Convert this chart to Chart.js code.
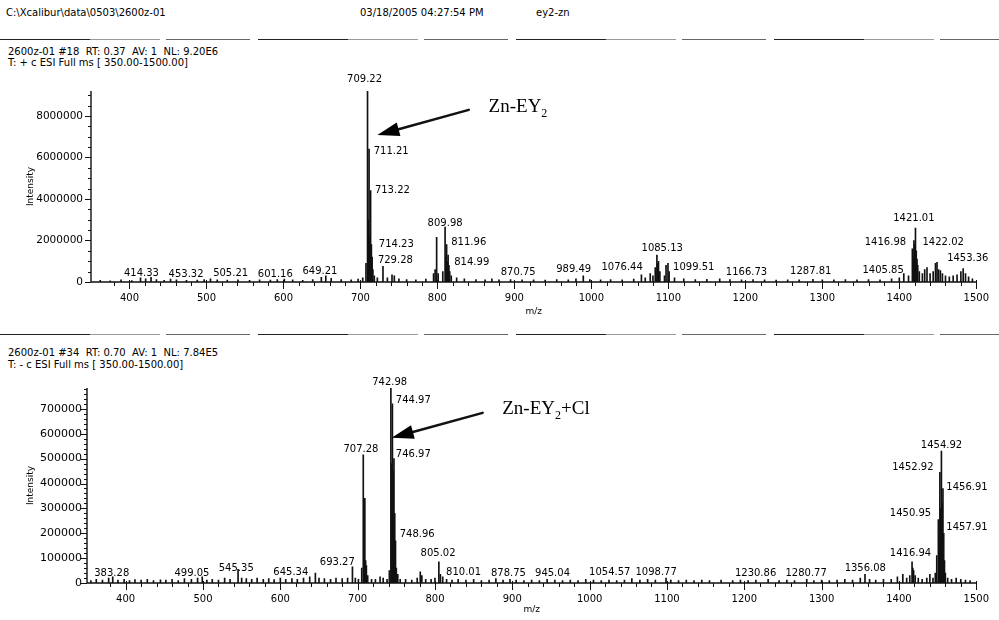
<!DOCTYPE html>
<html>
<head>
<meta charset="utf-8">
<script src="https://cdn.jsdelivr.net/npm/chart.js@4.4.1/dist/chart.umd.min.js"></script>
<style>
  body { margin: 0; background: #fff; }
  #page { position: relative; width: 999px; height: 620px; overflow: hidden; font-family: "DejaVu Sans", sans-serif; color: #000; }
  .txt { position: absolute; font-size: 10px; line-height: 12px; white-space: pre; }
  .rule { position: absolute; left: 0; width: 999px; height: 1px;
    background: repeating-linear-gradient(90deg, #222 0 90px, #999 90px 160px, transparent 160px 166px, #666 166px 250px, transparent 250px 258px); }
  canvas { position: absolute; left: 0; }
</style>
</head>
<body>
<div id="page">
  <div class="txt" style="left:6px;top:7px">C:\Xcalibur\data\0503\2600z-01</div>
  <div class="txt" style="left:360px;top:7px">03/18/2005 04:27:54 PM</div>
  <div class="txt" style="left:536px;top:7px">ey2-zn</div>
  <div class="rule" style="top:39px"></div>
  <div class="txt" style="left:8px;top:46px">2600z-01 #18  RT: 0.37  AV: 1  NL: 9.20E6</div>
  <div class="txt" style="left:8px;top:57px">T: + c ESI Full ms [ 350.00-1500.00]</div>
  <canvas id="topChart" width="999" height="250" style="top:70px"></canvas>
  <div class="rule" style="top:334px"></div>
  <div class="txt" style="left:8px;top:347px">2600z-01 #34  RT: 0.70  AV: 1  NL: 7.84E5</div>
  <div class="txt" style="left:8px;top:359px">T: - c ESI Full ms [ 350.00-1500.00]</div>
  <canvas id="bottomChart" width="999" height="250" style="top:370px"></canvas>
</div>
<script>
// scan #18, positive mode
const mzTop = [
  362, 375, 389, 403, 414.33, 421, 428, 435, 445, 453.32,
  461, 474, 488, 497, 505.21, 514, 527, 541, 556, 569,
  583, 592, 601.16, 612, 625, 638, 649.21, 655, 662, 675,
  688, 697, 703, 707.2, 709.22, 710.2, 711.21, 712.2, 713.22, 714.23,
  715.2, 716.2, 718, 722, 729.28, 735, 741, 744, 750, 760,
  772, 785, 795, 797, 799, 801, 807, 809.98, 810.9, 811.96,
  812.9, 813.9, 814.99, 816, 818, 825, 835, 850, 862, 870.75,
  880, 895, 910, 925, 940, 955, 970, 980, 989.49, 998,
  1012, 1025, 1040, 1055, 1065, 1070, 1076.44, 1080, 1083, 1085.13,
  1086, 1087.2, 1089, 1095, 1097, 1099.51, 1101, 1108, 1120, 1135,
  1150, 1166.73, 1180, 1195, 1210, 1225, 1240, 1255, 1270, 1287.81,
  1300, 1315, 1330, 1345, 1360, 1375, 1390, 1400, 1405.85, 1412,
  1416.98, 1418, 1419, 1420, 1421.01, 1422.02, 1423, 1424, 1426, 1430,
  1433, 1436, 1440, 1444, 1447, 1449, 1451, 1453.36, 1456, 1460,
  1465, 1470, 1475, 1480, 1483, 1486, 1490, 1495
];
const intTop = [
  80000, 60000, 100000, 70000, 200000, 150000, 220000, 120000, 80000, 140000,
  100000, 80000, 90000, 120000, 150000, 100000, 90000, 110000, 80000, 100000,
  90000, 120000, 140000, 100000, 80000, 120000, 220000, 300000, 180000, 120000,
  100000, 140000, 200000, 900000, 9200000, 3000000, 6400000, 2200000, 4400000, 1800000,
  1200000, 600000, 300000, 200000, 750000, 200000, 350000, 300000, 150000, 120000,
  100000, 140000, 400000, 600000, 2150000, 400000, 500000, 2650000, 1200000, 1800000,
  1000000, 1300000, 800000, 500000, 300000, 200000, 150000, 120000, 100000, 150000,
  100000, 120000, 100000, 110000, 90000, 120000, 100000, 150000, 300000, 120000,
  100000, 120000, 110000, 140000, 350000, 200000, 400000, 300000, 700000, 1300000,
  900000, 1000000, 500000, 300000, 800000, 900000, 500000, 200000, 150000, 120000,
  130000, 150000, 120000, 100000, 120000, 100000, 90000, 110000, 100000, 130000,
  100000, 110000, 120000, 100000, 120000, 100000, 150000, 200000, 400000, 300000,
  1600000, 1200000, 2000000, 1800000, 2600000, 1500000, 1100000, 800000, 500000, 400000,
  600000, 700000, 400000, 500000, 900000, 950000, 600000, 550000, 400000, 300000,
  250000, 300000, 350000, 500000, 650000, 400000, 250000, 150000
];
const tagTextTop = ["709.22", "711.21", "713.22", "714.23", "729.28", "809.98", "811.96", "814.99",
  "870.75", "989.49", "1076.44", "1085.13", "1099.51", "1166.73", "1287.81", "1405.85",
  "1416.98", "1421.01", "1422.02", "1453.36", "414.33", "453.32", "505.21", "601.16", "649.21"];
const tagMzTop = [705.4, 740, 741.5, 746.6, 745.4, 810, 840.7, 844.6,
  905, 977, 1040, 1092, 1133, 1201.5, 1285, 1379,
  1382, 1419, 1457, 1489, 415.5, 473.5, 531.4, 589.4, 647.4];
const tagIntTop = [9735000, 6313000, 4434000, 1831000, 1060000, 2843000, 1928000, 964000,
  482000, 627000, 723000, 1639000, 723000, 482000, 530000, 578000,
  1928000, 3084000, 1928000, 1157000, 434000, 386000, 434000, 386000, 530000];

// scan #34, negative mode
const mzBottom = [
  355, 362, 370, 378, 383.28, 390, 398, 405, 412, 420,
  428, 436, 445, 452, 460, 468, 476, 485, 493, 499.05,
  505, 512, 520, 528, 535, 545.35, 550, 556, 563, 570,
  578, 585, 592, 600, 607, 615, 622, 630, 638, 645.34,
  650, 657, 665, 672, 680, 687, 693.27, 697, 701, 705.3,
  707.28, 708.3, 709.3, 710.3, 711.3, 713, 718, 723, 729, 733,
  738, 741, 742.98, 743.98, 744.97, 745.97, 746.97, 747.97, 748.96, 750,
  751.9, 755, 762, 770, 777, 781, 783, 788, 795, 800,
  805.02, 807, 810.01, 815, 822, 830, 840, 850, 860, 870,
  878.75, 888, 897, 905, 915, 925, 935, 945.04, 955, 965,
  975, 985, 995, 1005, 1015, 1025, 1035, 1045, 1054.57, 1065,
  1075, 1085, 1098.77, 1105, 1115, 1125, 1135, 1145, 1155, 1170,
  1185, 1195, 1205, 1215, 1230.86, 1245, 1255, 1265, 1280.77, 1290,
  1300, 1310, 1320, 1330, 1340, 1350, 1356.08, 1362, 1370, 1380,
  1390, 1398, 1405, 1410, 1414, 1416.94, 1418, 1419, 1421, 1425,
  1430, 1436, 1440, 1444, 1447, 1448.9, 1450.95, 1451.9, 1452.92, 1453.9,
  1454.92, 1455.9, 1456.91, 1457.91, 1458.9, 1460, 1463, 1468, 1474, 1480,
  1486, 1492
];
const intBottom = [
  10000, 15000, 12000, 20000, 25000, 12000, 15000, 10000, 14000, 12000,
  15000, 10000, 13000, 12000, 15000, 10000, 18000, 15000, 20000, 25000,
  12000, 15000, 12000, 20000, 15000, 55000, 20000, 18000, 15000, 20000,
  15000, 18000, 14000, 20000, 15000, 18000, 15000, 20000, 25000, 40000,
  20000, 18000, 15000, 20000, 18000, 20000, 65000, 20000, 15000, 60000,
  515000, 150000, 340000, 90000, 70000, 30000, 15000, 15000, 25000, 20000,
  15000, 50000, 784000, 480000, 720000, 450000, 500000, 280000, 170000, 60000,
  35000, 15000, 15000, 12000, 20000, 45000, 30000, 15000, 15000, 20000,
  85000, 35000, 25000, 15000, 12000, 15000, 12000, 15000, 10000, 12000,
  18000, 12000, 15000, 12000, 10000, 12000, 10000, 15000, 12000, 10000,
  12000, 10000, 15000, 12000, 10000, 12000, 10000, 12000, 18000, 12000,
  15000, 12000, 20000, 12000, 10000, 12000, 10000, 12000, 10000, 12000,
  10000, 12000, 10000, 12000, 15000, 10000, 12000, 10000, 15000, 10000,
  12000, 10000, 12000, 15000, 12000, 20000, 35000, 15000, 12000, 15000,
  15000, 25000, 35000, 20000, 30000, 85000, 60000, 50000, 30000, 20000,
  15000, 20000, 35000, 20000, 40000, 110000, 255000, 150000, 445000, 300000,
  530000, 320000, 380000, 200000, 90000, 40000, 20000, 15000, 20000, 15000,
  12000, 10000
];
const tagTextBottom = ["383.28", "499.05", "545.35", "645.34", "693.27", "742.98", "744.97", "707.28",
  "746.97", "748.96", "805.02", "810.01", "878.75", "945.04", "1054.57", "1098.77",
  "1230.86", "1280.77", "1356.08", "1416.94", "1450.95", "1452.92", "1454.92", "1456.91", "1457.91"];
const tagMzBottom = [382, 485.7, 543, 613.6, 673.7, 741.4, 772, 704.3,
  772, 777, 804, 837, 895, 952, 1026, 1086,
  1214.6, 1280, 1356.5, 1415, 1415, 1418, 1455, 1488, 1488];
const tagIntBottom = [40000, 40000, 60000, 44000, 84000, 808000, 736000, 536000,
  516000, 196000, 120000, 44000, 40000, 40000, 44000, 44000,
  40000, 40000, 60000, 120000, 280000, 464000, 552000, 384000, 224000];

Chart.defaults.font.family = '"DejaVu Sans", sans-serif';
Chart.defaults.color = "#000";

const spectrumDecor = {
  id: "spectrumDecor",
  afterDraw(chart, args, o) {
    const { ctx, chartArea: a } = chart;
    const xs = chart.scales.x;
    const ys = chart.scales.y;
    ctx.save();
    ctx.strokeStyle = "#111";
    ctx.lineWidth = 1.4;
    ctx.beginPath();
    ctx.moveTo(a.left, a.top);
    ctx.lineTo(a.left, a.bottom);
    ctx.lineTo(a.right, a.bottom);
    ctx.stroke();

    ctx.lineWidth = 1;
    ctx.beginPath();
    xs.ticks.forEach((t) => {
      if (t.value % o.xMinor) return;
      const px = Math.round(xs.getPixelForValue(t.value)) + 0.5;
      const major = t.value % o.xMajor === 0;
      ctx.moveTo(px, a.bottom - (major ? 2 : 0));
      ctx.lineTo(px, a.bottom + (major ? 7 : 4));
    });
    ys.ticks.forEach((t) => {
      const py = Math.round(ys.getPixelForValue(t.value)) + 0.5;
      const major = t.value % o.yMajor === 0;
      ctx.moveTo(a.left - (major ? 6 : 3), py);
      ctx.lineTo(a.left, py);
    });
    ctx.stroke();

    ctx.fillStyle = "#000";
    ctx.font = '10px "DejaVu Sans"';
    ctx.textAlign = "center";
    ctx.textBaseline = "middle";
    o.tags.forEach((t, i) => {
      ctx.fillText(t, xs.getPixelForValue(o.tagX[i]), ys.getPixelForValue(o.tagY[i]));
    });

    // arrow pointing at the complex peak
    const x1 = xs.getPixelForValue(o.arrow[0]), y1 = ys.getPixelForValue(o.arrow[1]);
    const x2 = xs.getPixelForValue(o.arrow[2]), y2 = ys.getPixelForValue(o.arrow[3]);
    const ang = Math.atan2(y2 - y1, x2 - x1);
    const head = 22, half = 7;
    const bx = x2 - head * Math.cos(ang), by = y2 - head * Math.sin(ang);
    ctx.lineWidth = 2.5;
    ctx.lineCap = "round";
    ctx.beginPath();
    ctx.moveTo(x1, y1);
    ctx.lineTo(bx, by);
    ctx.stroke();
    ctx.beginPath();
    ctx.moveTo(x2, y2);
    ctx.lineTo(bx + half * Math.sin(ang), by - half * Math.cos(ang));
    ctx.lineTo(bx - half * Math.sin(ang), by + half * Math.cos(ang));
    ctx.closePath();
    ctx.fill();

    let nx = xs.getPixelForValue(o.noteAt[0]);
    const ny = ys.getPixelForValue(o.noteAt[1]);
    ctx.textAlign = "left";
    ctx.textBaseline = "alphabetic";
    o.note.forEach((p) => {
      ctx.font = p.sub ? '12px "Liberation Serif"' : '19px "Liberation Serif"';
      ctx.fillText(p.t, nx, ny + (p.sub ? 5 : 0));
      nx += ctx.measureText(p.t).width;
    });
    ctx.restore();
  },
};

function drawSpectrum(id, mz, inten, s) {
  return new Chart(document.getElementById(id), {
    type: "bar",
    data: {
      datasets: [{
        data: mz.map((m, i) => ({ x: m, y: inten[i] })),
        backgroundColor: "#111",
        borderWidth: 0,
        barThickness: 1,
      }],
    },
    options: {
      responsive: false,
      animation: false,
      layout: { padding: { top: s.padTop, right: s.padRight, left: 0, bottom: 0 } },
      plugins: {
        legend: { display: false },
        tooltip: { enabled: false },
        spectrumDecor: s.decor,
      },
      scales: {
        x: {
          type: "linear",
          offset: false,
          min: 350,
          max: 1500,
          grid: { display: false, drawTicks: false },
          border: { display: false },
          ticks: {
            stepSize: 20,
            autoSkip: false,
            maxRotation: 0,
            padding: 10,
            font: { size: 10 },
            callback: (v) => (v % 100 === 0 ? String(v) : ""),
          },
          title: { display: true, text: "m/z", font: { size: 9 }, padding: { top: 0, bottom: s.mzPad } },
          afterFit: (sc) => { sc.height = s.xHeight; },
        },
        y: {
          min: 0,
          max: s.yMax,
          grid: { display: false, drawTicks: false },
          border: { display: false },
          ticks: {
            autoSkip: false,
            padding: s.yPad,
            font: { size: s.yFont },
            callback: (v) => (v % s.decor.yMajor === 0 ? String(v) : ""),
          },
          // one tick per minor step; only the majors get a label
          afterBuildTicks: (sc) => {
            const t = [];
            for (let v = 0; v <= s.yMax; v += s.decor.yMinor) t.push({ value: v });
            sc.ticks = t;
          },
          title: { display: true, text: "Intensity", font: { size: 9 }, padding: { top: 25, bottom: 0 } },
          afterFit: (sc) => { sc.width = s.yWidth; },
        },
      },
    },
    plugins: [spectrumDecor],
  });
}

drawSpectrum("topChart", mzTop, intTop, {
  padTop: 21, padRight: 15, xHeight: 38, yWidth: 91, yMax: 9200000, yPad: 8, yFont: 10.5, mzPad: 3,
  decor: {
    xMinor: 20, xMajor: 100, yMinor: 500000, yMajor: 2000000,
    tags: tagTextTop, tagX: tagMzTop, tagY: tagIntTop,
    arrow: [840.7, 8290000, 722, 7080000],
    noteAt: [866.5, 8190000],
    note: [{ t: "Zn-EY" }, { t: "2", sub: true }],
  },
});

drawSpectrum("bottomChart", mzBottom, intBottom, {
  padTop: 18, padRight: 13, xHeight: 37, yWidth: 87, yMax: 784000, yPad: 5, yFont: 11, mzPad: 5,
  decor: {
    xMinor: 20, xMajor: 100, yMinor: 20000, yMajor: 100000,
    tags: tagTextBottom, tagX: tagMzBottom, tagY: tagIntBottom,
    arrow: [861.6, 684000, 744, 584000],
    noteAt: [887, 680000],
    note: [{ t: "Zn-EY" }, { t: "2", sub: true }, { t: "+Cl" }],
  },
});
</script>
</body>
</html>
